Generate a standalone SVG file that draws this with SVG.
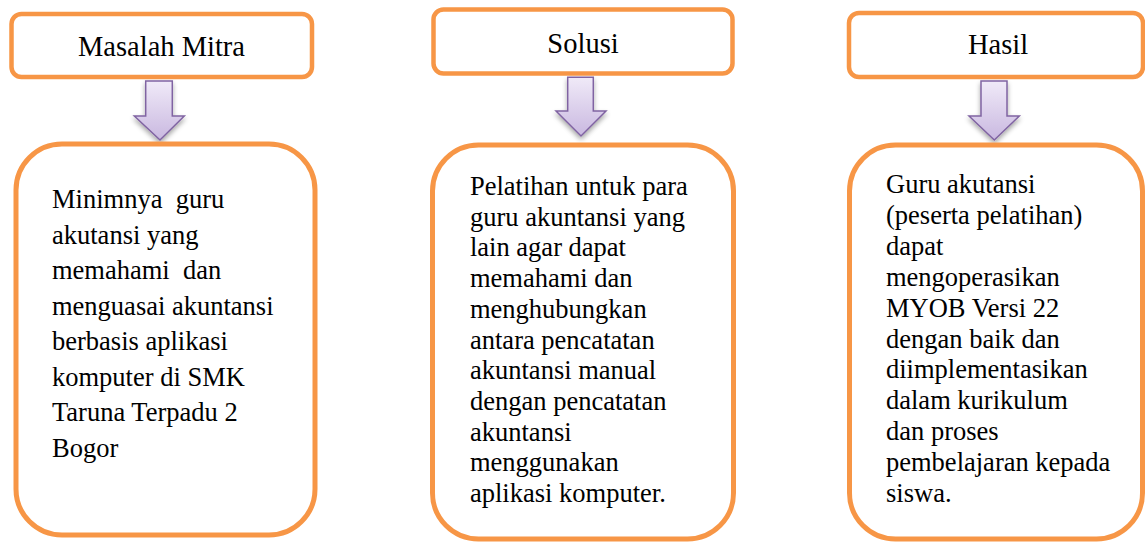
<svg xmlns="http://www.w3.org/2000/svg" width="1145" height="543" viewBox="0 0 1145 543">
<defs>
<linearGradient id="ag" x1="0" y1="0" x2="0" y2="1">
<stop offset="0" stop-color="#F0EAF8"/>
<stop offset="1" stop-color="#C9B8E0"/>
</linearGradient>
<filter id="sh" x="-50%" y="-30%" width="200%" height="180%">
<feGaussianBlur in="SourceAlpha" stdDeviation="2.5"/>
<feOffset dy="3" result="b"/>
<feComponentTransfer><feFuncA type="linear" slope="0.35"/></feComponentTransfer>
<feMerge><feMergeNode/><feMergeNode in="SourceGraphic"/></feMerge>
</filter>
</defs>
<style>
.hd{fill:#fff;stroke:#F79646;stroke-width:4.5}
.bd{fill:#fff;stroke:#F79646;stroke-width:5}
.ar{fill:url(#ag);stroke:#8064A2;stroke-width:1.5;stroke-linejoin:miter}
.ht{font-family:"Liberation Serif","Times New Roman",serif;font-size:28.5px;fill:#000;text-anchor:middle}
.bt{font-family:"Liberation Serif","Times New Roman",serif;font-size:26.5px;fill:#000;white-space:pre}
</style>
<rect width="1145" height="543" fill="#fff"/>
<g id="connectors">
<path class="ar" filter="url(#sh)" d="M145.7,81 H172.3 V116 H184.3 L160,140 L134.3,116 H145.7 Z"/>
<path class="ar" filter="url(#sh)" d="M567.7,77.3 H593.3 V111 H606 L581,136 L556,111 H567.7 Z"/>
<path class="ar" filter="url(#sh)" d="M981,81 H1007 V116 H1019.3 L994.3,140 L969,116 H981 Z"/>
</g>
<g id="header1">
<rect class="hd" x="11.5" y="14" width="300.5" height="63" rx="10"/>
<text class="ht" x="161.5" y="56">Masalah Mitra</text>
</g>
<g id="header2">
<rect class="hd" x="433.5" y="9.5" width="299" height="64" rx="10"/>
<text class="ht" x="583" y="53.3">Solusi</text>
</g>
<g id="header3">
<rect class="hd" x="849" y="13" width="294" height="64" rx="10"/>
<text class="ht" x="998" y="54.3">Hasil</text>
</g>
<g id="body1">
<rect class="bd" x="16" y="144" width="299" height="391" rx="46"/>
<text class="bt" x="52" y="208.3">Minimnya  guru</text>
<text class="bt" x="52" y="243.8">akutansi yang</text>
<text class="bt" x="52" y="279.3">memahami  dan</text>
<text class="bt" x="52" y="314.8">menguasai akuntansi</text>
<text class="bt" x="52" y="350.3">berbasis aplikasi</text>
<text class="bt" x="52" y="385.8">komputer di SMK</text>
<text class="bt" x="52" y="421.3">Taruna Terpadu 2</text>
<text class="bt" x="52" y="456.8">Bogor</text>
</g>
<g id="body2">
<rect class="bd" x="432.5" y="145" width="301" height="394" rx="46"/>
<text class="bt" x="470" y="195">Pelatihan untuk para</text>
<text class="bt" x="470" y="225.7">guru akuntansi yang</text>
<text class="bt" x="470" y="256.4">lain agar dapat</text>
<text class="bt" x="470" y="287.1">memahami dan</text>
<text class="bt" x="470" y="317.8">menghubungkan</text>
<text class="bt" x="470" y="348.5">antara pencatatan</text>
<text class="bt" x="470" y="379.2">akuntansi manual</text>
<text class="bt" x="470" y="409.9">dengan pencatatan</text>
<text class="bt" x="470" y="440.6">akuntansi</text>
<text class="bt" x="470" y="471.3">menggunakan</text>
<text class="bt" x="470" y="502">aplikasi komputer.</text>
</g>
<g id="body3">
<rect class="bd" x="849.5" y="145" width="293" height="394" rx="46"/>
<text class="bt" x="886" y="193">Guru akutansi</text>
<text class="bt" x="886" y="223.9">(peserta pelatihan)</text>
<text class="bt" x="886" y="254.8">dapat</text>
<text class="bt" x="886" y="285.7">mengoperasikan</text>
<text class="bt" x="886" y="316.6">MYOB Versi 22</text>
<text class="bt" x="886" y="347.5">dengan baik dan</text>
<text class="bt" x="886" y="378.4">diimplementasikan</text>
<text class="bt" x="886" y="409.3">dalam kurikulum</text>
<text class="bt" x="886" y="440.2">dan proses</text>
<text class="bt" x="886" y="471.1">pembelajaran kepada</text>
<text class="bt" x="886" y="502">siswa.</text>
</g>
</svg>
